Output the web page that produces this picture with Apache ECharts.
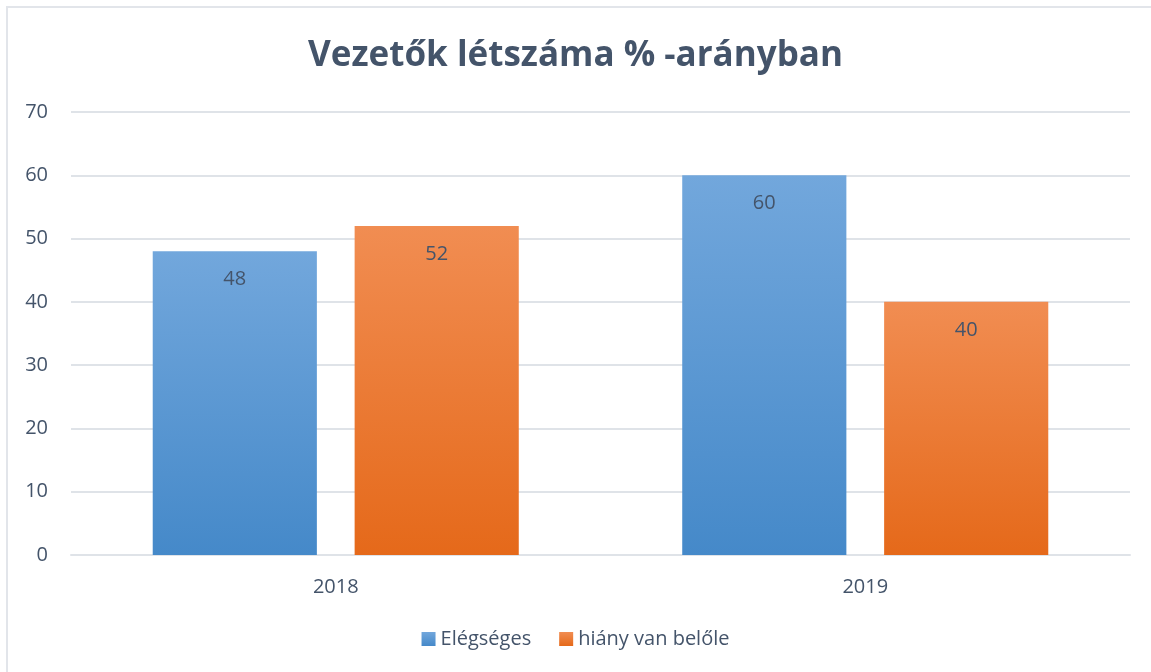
<!DOCTYPE html>
<html>
<head>
<meta charset="utf-8">
<script src="https://cdn.jsdelivr.net/npm/echarts@6/dist/echarts.min.js"></script>
<style>
  html, body { margin: 0; padding: 0; background: #fff; overflow: hidden; }
  #frame { position: absolute; left: 6px; top: 6px; width: 1200px; height: 720px; border: 2px solid #e2e5ea; }
  #chart { position: absolute; left: 0; top: 0; width: 1151px; height: 672px; }
</style>
</head>
<body>
<div id="frame"></div>
<div id="chart"></div>
<script>
// data
var categories = ['2018', '2019'];
var seriesNames = ['Elégséges', 'hiány van belőle'];
var enoughValues = [48, 60];
var lackValues = [52, 40];

(function() {
  var ink = '#44546a';
  var rule = '#dfe3e8';
  var font = '"Open Sans", "Noto Sans", sans-serif';

  function grad(top, bottom) {
    return new echarts.graphic.LinearGradient(0, 0, 0, 1, [
      { offset: 0, color: top },
      { offset: 1, color: bottom }
    ]);
  }

  var chart = echarts.init(document.getElementById('chart'), null, { renderer: 'canvas' });
  chart.setOption({
    animation: false,
    textStyle: { fontFamily: font },
    title: {
      text: 'Vezetők létszáma % -arányban',
      left: 'center',
      top: 34,
      textStyle: { color: ink, fontSize: 35, fontWeight: 'bold', fontFamily: font }
    },
    legend: {
      data: seriesNames,
      bottom: 18,
      left: 'center',
      itemWidth: 14, itemHeight: 14, itemGap: 28,
      icon: 'rect',
      textStyle: { color: ink, fontSize: 20 }
    },
    grid: { left: 71, right: 21, top: 112, bottom: 117 },
    xAxis: {
      type: 'category',
      data: categories,
      axisLine: { lineStyle: { color: rule, width: 2 } },
      axisTick: { show: false },
      axisLabel: { color: ink, fontSize: 20, margin: 22 }
    },
    yAxis: {
      type: 'value',
      min: 0, max: 70, interval: 10,
      axisLine: { show: false },
      axisTick: { show: false },
      axisLabel: { color: ink, fontSize: 20, margin: 23 },
      splitLine: { lineStyle: { color: rule, width: 2 } }
    },
    series: [
      {
        name: seriesNames[0],
        type: 'bar',
        data: enoughValues,
        barWidth: '31%',
        barGap: '23%',
        itemStyle: { color: grad('#72a7dc', '#4589c9') },
        label: { show: true, position: 'insideTop', distance: 18, color: ink, fontSize: 20 }
      },
      {
        name: seriesNames[1],
        type: 'bar',
        data: lackValues,
        barWidth: '31%',
        itemStyle: { color: grad('#f18d52', '#e5691a') },
        label: { show: true, position: 'insideTop', distance: 18, color: ink, fontSize: 20 }
      }
    ]
  });
  window.addEventListener('resize', function() { chart.resize(); });
})();
</script>
</body>
</html>
